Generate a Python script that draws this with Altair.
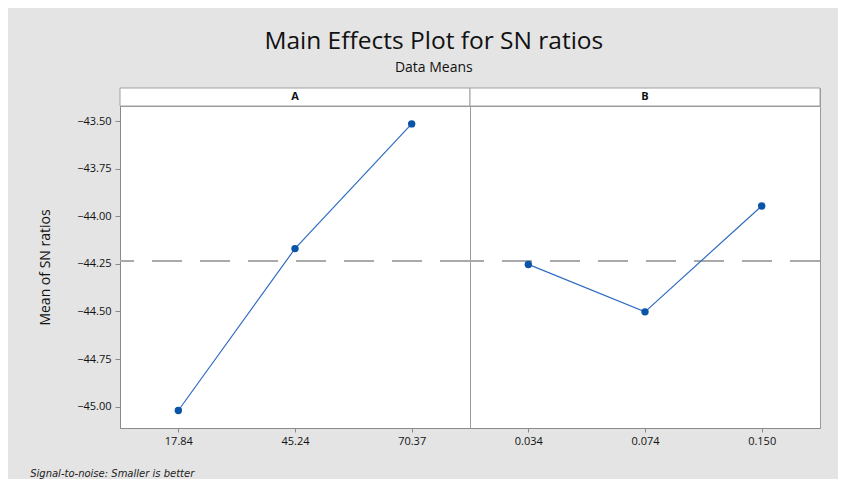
import altair as alt
import pandas as pd

# ---- data ----
factors = ["A", "A", "A", "B", "B", "B"]
levels = ["17.84", "45.24", "70.37", "0.034", "0.074", "0.150"]
sn_means = [-45.020, -44.170, -43.515, -44.253, -44.502, -43.946]
overall_mean = -44.235
y_ticks = [-45.00, -44.75, -44.50, -44.25, -44.00, -43.75, -43.50]
y_domain = [-45.112, -43.421]

df = pd.DataFrame({"factor": factors, "level": levels, "sn": sn_means})
strip_df = pd.DataFrame({"factor": list(dict.fromkeys(factors))})

FONT = "Open Sans"
TXT = "#111111"
AXC = "#8a8a8a"
LINE_BLUE = "#2f6cc2"
DOT_BLUE = "#0a55a8"


def panel(name, show_y):
    sub = df[df.factor == name]
    order = list(sub.level)
    x = alt.X(
        "level:O",
        sort=order,
        scale=alt.Scale(type="point", padding=0.5),
        axis=alt.Axis(
            title=None, labelAngle=0, tickSize=4, tickColor=AXC, domainColor=AXC,
            labelFont=FONT, labelFontSize=11, labelColor=TXT, labelPadding=3, grid=False,
        ),
    )
    yscale = alt.Scale(domain=y_domain, nice=False, zero=False)
    if show_y:
        yaxis = alt.Axis(
            title="Mean of SN ratios", values=y_ticks, format=".2f", tickSize=5,
            tickColor=AXC, domainColor=AXC, labelFont=FONT, labelFontSize=11,
            labelColor=TXT, labelPadding=4, titleFont=FONT, titleFontSize=14,
            titleFontWeight="normal", titleColor=TXT, titlePadding=24, grid=False,
        )
    else:
        yaxis = None
    y = alt.Y("sn:Q", scale=yscale, axis=yaxis)
    base = alt.Chart(sub)
    mean = base.mark_rule(color="#a9a9a9", strokeWidth=2, strokeDash=[30, 18]).encode(
        y=alt.Y(datum=overall_mean, scale=yscale, axis=yaxis)
    )
    line = base.mark_line(color=LINE_BLUE, strokeWidth=1.2).encode(x=x, y=y)
    pts = base.mark_circle(color=DOT_BLUE, size=55, opacity=1).encode(x=x, y=y)
    return alt.layer(mean, line, pts).properties(width=350, height=322)


strip_base = alt.Chart(strip_df).encode(
    x=alt.X("factor:N", axis=None, scale=alt.Scale(paddingInner=0, paddingOuter=0))
)
strip = alt.layer(
    strip_base.mark_rect(fill="white", stroke="#a0a0a0", strokeWidth=1),
    strip_base.mark_text(font=FONT, fontSize=11, fontWeight="bold", color=TXT).encode(
        text="factor:N"
    ),
).properties(width=700, height=18)

body = alt.hconcat(panel("A", True), panel("B", False), spacing=0, bounds="flush").properties(
    title=alt.TitleParams(
        "Signal-to-noise: Smaller is better", orient="bottom", anchor="start",
        font="DejaVu Sans", fontStyle="italic", fontSize=10, fontWeight="normal",
        color="#222222", offset=22, dx=-8,
    )
)

chart = alt.vconcat(strip, body, spacing=0, bounds="flush").properties(
    title=alt.TitleParams(
        "Main Effects Plot for SN ratios", subtitle="Data Means", anchor="middle",
        font=FONT, fontSize=24.5, fontWeight="normal", color=TXT,
        subtitleFont=FONT, subtitleFontSize=14, subtitleColor=TXT,
        subtitlePadding=7, offset=11, dx=8,
    ),
    padding={"left": 22, "top": 20, "right": 16, "bottom": 0},
    background="#e4e4e4",
).configure_view(fill="white", stroke="#9a9a9a", strokeWidth=1)

chart.save("out.html", embed_options={"renderer": "svg", "actions": False})
